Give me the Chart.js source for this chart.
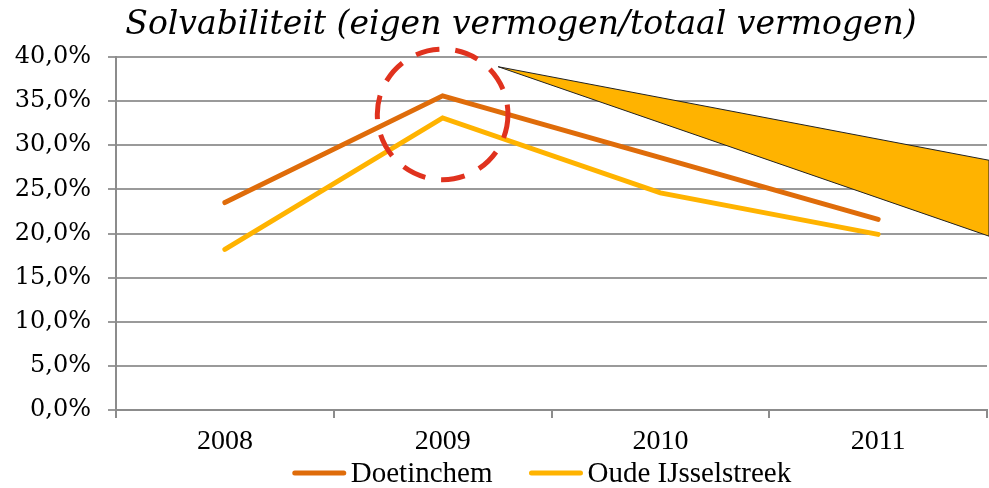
<!DOCTYPE html>
<html>
<head>
<meta charset="utf-8">
<script src="https://cdn.jsdelivr.net/npm/chart.js@4"></script>
<style>
  html, body { margin: 0; padding: 0; background: #fff; }
  #wrap { width: 989px; height: 488px; }
</style>
</head>
<body>
<div id="wrap"><canvas id="chart" width="989" height="488"></canvas></div>
<script>
// Solvabiliteit per gemeente
const years = ["2008", "2009", "2010", "2011"];
const doetinchem = [23.5, 35.6, 28.6, 21.6];
const oudeIJsselstreek = [18.2, 33.1, 24.6, 19.9];
const yTicks = [0, 5, 10, 15, 20, 25, 30, 35, 40];
const titleText = "Solvabiliteit (eigen vermogen/totaal vermogen)";

// markering rond 2009 (index, waarde) en de "uitvergroting" naar rechts
const circleAt = { index: 1, value: 33.5, rx: 0.3, ry: 7.4 };
const wedge = { tipIndex: 1.255, tipValue: 38.9, rightTop: 28.3, rightBottom: 19.7 };

// titel, wig, cirkel en legenda zelf tekenen
const annotations = {
  id: "annotations",
  afterDatasetsDraw(chart) {
    const { ctx, chartArea, scales: { x, y } } = chart;
    // oranje wig
    const tipX = x.getPixelForValue(wedge.tipIndex);
    ctx.save();
    ctx.beginPath();
    ctx.moveTo(tipX, y.getPixelForValue(wedge.tipValue));
    ctx.lineTo(chartArea.right + 2, y.getPixelForValue(wedge.rightTop));
    ctx.lineTo(chartArea.right + 2, y.getPixelForValue(wedge.rightBottom));
    ctx.closePath();
    ctx.fillStyle = "#FFB300";
    ctx.fill();
    ctx.strokeStyle = "#222";
    ctx.lineWidth = 1;
    ctx.stroke();

    // rode gestippelde cirkel
    const cx = x.getPixelForValue(circleAt.index);
    const cy = y.getPixelForValue(circleAt.value);
    const rx = x.getPixelForValue(circleAt.index + circleAt.rx) - cx;
    const ry = y.getPixelForValue(0) - y.getPixelForValue(circleAt.ry);
    ctx.beginPath();
    ctx.ellipse(cx, cy, rx, ry, 0, 0, Math.PI * 2);
    ctx.setLineDash([24, 16]);
    ctx.lineWidth = 5;
    ctx.strokeStyle = "#E0321E";
    ctx.stroke();
    ctx.restore();
  },
  afterDraw(chart) {
    const { ctx } = chart;
    ctx.save();
    // titel
    ctx.font = "italic 33px 'DejaVu Serif'";
    ctx.fillStyle = "#000";
    ctx.textAlign = "center";
    ctx.textBaseline = "middle";
    ctx.fillText(titleText, 521, 25);

    // legenda onderaan
    ctx.font = "29px 'Liberation Serif'";
    ctx.textAlign = "left";
    const lineLen = 53, gap = 5, spacing = 37, ly = 473;
    const items = chart.data.datasets.map(ds => ({
      label: ds.label, color: ds.borderColor, w: ctx.measureText(ds.label).width
    }));
    const total = items.reduce((s, it) => s + lineLen + gap + it.w, 0) + spacing * (items.length - 1);
    let lx = 542 - total / 2;
    items.forEach(it => {
      ctx.beginPath();
      ctx.moveTo(lx + 2, ly);
      ctx.lineTo(lx + lineLen - 2, ly);
      ctx.strokeStyle = it.color;
      ctx.lineWidth = 5;
      ctx.lineCap = "round";
      ctx.stroke();
      ctx.fillText(it.label, lx + lineLen + gap, ly + 1);
      lx += lineLen + gap + it.w + spacing;
    });
    ctx.restore();
  }
};

new Chart(document.getElementById("chart"), {
  type: "line",
  data: {
    labels: years,
    datasets: [
      {
        label: "Doetinchem",
        data: doetinchem,
        borderColor: "#DF6C0A",
        backgroundColor: "#DF6C0A",
        borderWidth: 5,
        borderCapStyle: "round",
        tension: 0,
        pointRadius: 0
      },
      {
        label: "Oude IJsselstreek",
        data: oudeIJsselstreek,
        borderColor: "#FFB300",
        backgroundColor: "#FFB300",
        borderWidth: 5,
        borderCapStyle: "round",
        tension: 0,
        pointRadius: 0
      }
    ]
  },
  options: {
    responsive: false,
    animation: false,
    devicePixelRatio: 1,
    layout: { padding: { left: 0, right: 2, top: 57, bottom: 32 } },
    scales: {
      x: {
        offset: true,
        grid: {
          offset: true,
          drawOnChartArea: false,
          drawTicks: true,
          tickLength: 8,
          color: "#8c8c8c",
          lineWidth: 2
        },
        border: { color: "#8c8c8c", width: 2 },
        ticks: {
          color: "#000",
          padding: 7,
          font: { family: "Liberation Serif", size: 28 }
        },
        afterFit(scale) { scale.height = 46; }
      },
      y: {
        min: 0,
        max: 40,
        afterBuildTicks(scale) { scale.ticks = yTicks.map(v => ({ value: v })); },
        grid: {
          color: "#9a9a9a",
          lineWidth: 2,
          tickLength: 8
        },
        border: { color: "#8c8c8c", width: 2 },
        ticks: {
          color: "#000",
          padding: 17,
          font: { family: "DejaVu Serif", size: 24 },
          callback: v => v.toFixed(1).replace(".", ",") + "%"
        },
        afterFit(scale) { scale.width = 116; }
      }
    },
    plugins: {
      legend: { display: false },
      title: { display: false },
      tooltip: { enabled: false }
    }
  },
  plugins: [annotations]
});
</script>
</body>
</html>
